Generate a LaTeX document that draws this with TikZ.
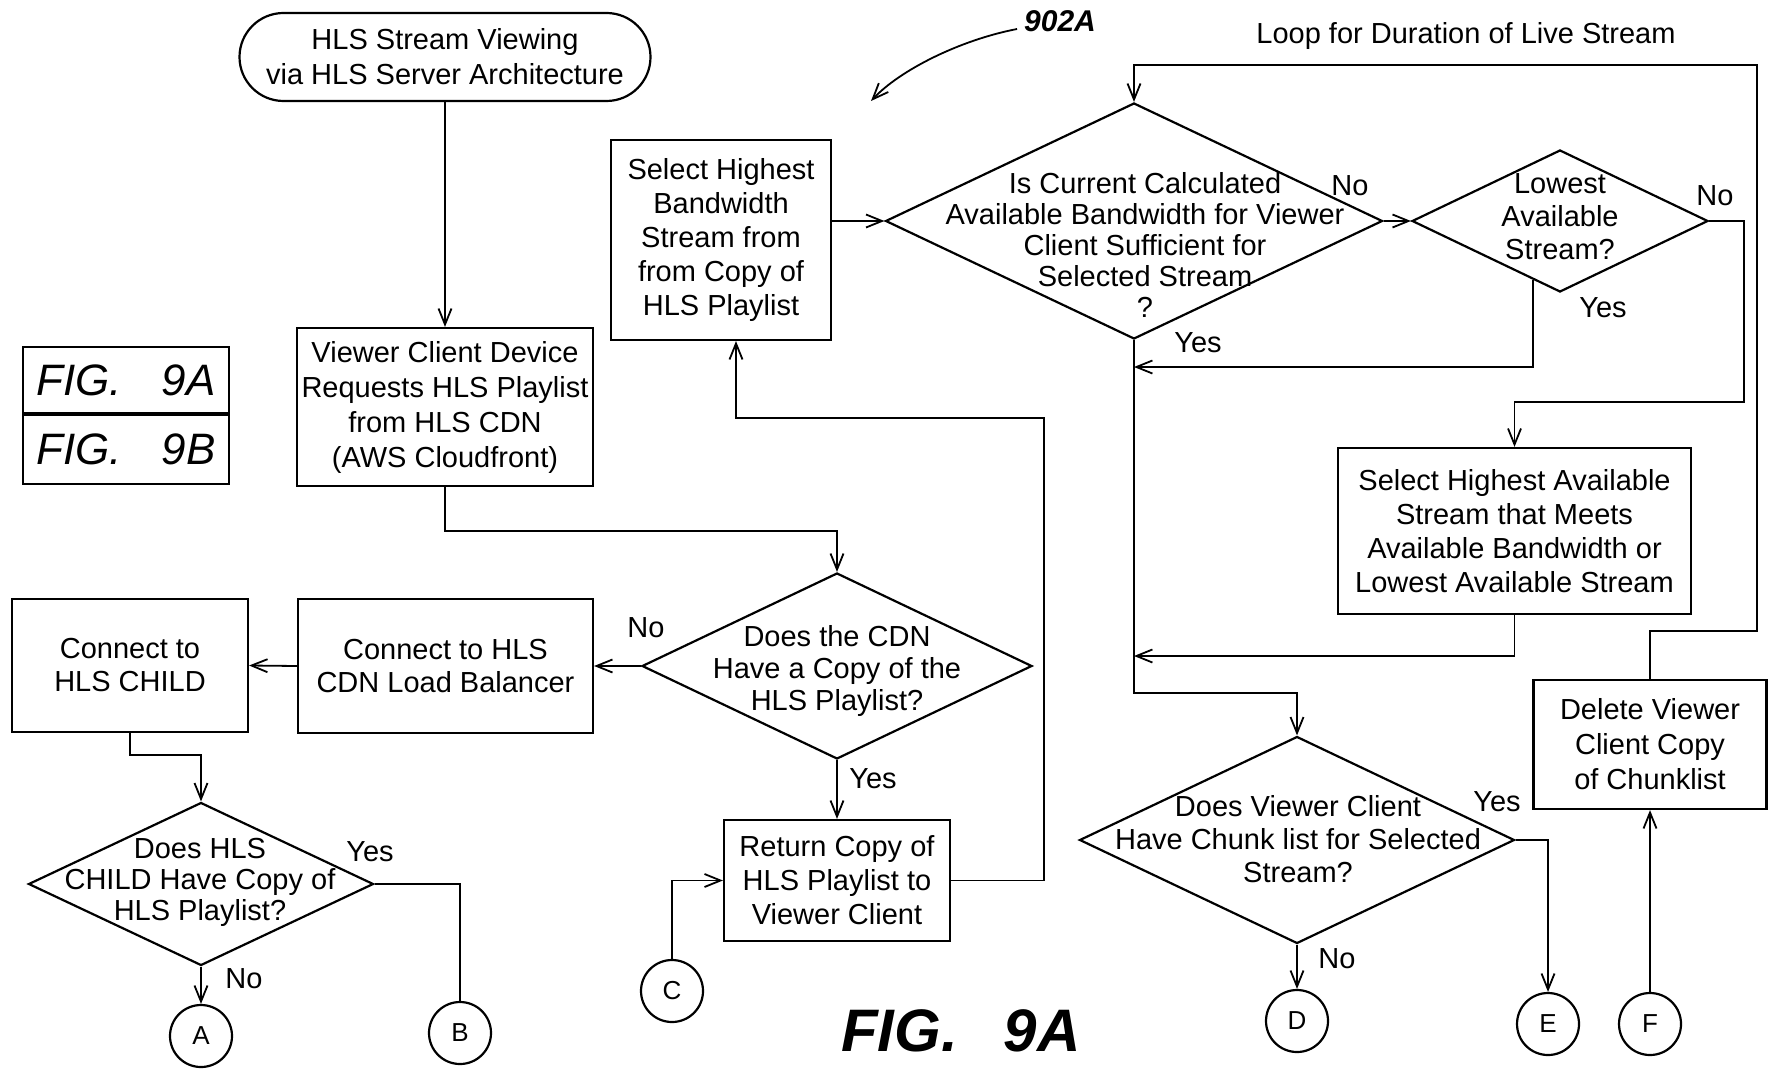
\documentclass[tikz,border=0pt]{standalone}
\usepackage{fontspec}
\setmainfont{Liberation Sans}
\usetikzlibrary{shapes.geometric,shapes.misc,arrows.meta,calc}

\tikzset{
	process/.style={draw, line width=1.1pt, align=center, inner sep=0pt},
	terminal/.style={draw, rounded rectangle, line width=1.1pt, align=center, inner sep=0pt},
	decision/.style={draw, diamond, line width=1.1pt, inner sep=0pt},
	qtext/.style={align=center},
	connector/.style={draw, circle, line width=1.1pt, minimum size=31pt, inner sep=0pt, font=\fontsize{13}{15}\selectfont},
	flow/.style={line width=0.9pt, -{Straight Barb[length=8pt,width=6.5pt]}},
	wire/.style={line width=0.9pt},
	figlbl/.style={font=\fontsize{22}{24}\selectfont\itshape},
}

\begin{document}
\begin{tikzpicture}[x=0.5pt, y=-0.5pt, every node/.style={font=\fontsize{14.5}{16.5}\selectfont}]
	\useasboundingbox (0,0) rectangle (1775,1075);

	\node[terminal, minimum width=205.5pt, minimum height=44pt, font=\fontsize{14.5}{17.5}\selectfont] (start) at (445,57) {HLS Stream Viewing\\via HLS Server Architecture};
	\node[process, minimum width=148pt, minimum height=79pt, font=\fontsize{14.5}{17.5}\selectfont] (request) at (445,407) {Viewer Client Device\\Requests HLS Playlist\\from HLS CDN\\(AWS Cloudfront)};
	\node[process, minimum width=103pt, minimum height=33pt, figlbl] (fig9a) at (126,380) {FIG.\hspace{20pt}9A};
	\node[process, minimum width=103pt, minimum height=34.5pt, figlbl, anchor=north] (fig9b) at (fig9a.south) {FIG.\hspace{20pt}9B};

	\node[process, minimum width=110pt, minimum height=100pt, font=\fontsize{14.5}{17}\selectfont] (selhigh) at (721,240) {Select Highest\\Bandwidth\\Stream from\\from Copy of\\HLS Playlist};
	\node[decision, minimum width=248.5pt, minimum height=118pt] (bwok) at (1134,221) {};
	\node[qtext, font=\fontsize{14.5}{15.5}\selectfont] (bwok-t) at (1145,245) {Is Current Calculated\\Available Bandwidth for Viewer\\Client Sufficient for\\Selected Stream\\?};
	\node[decision, minimum width=148pt, minimum height=71pt] (lowest) at (1560,221) {};
	\node[qtext] (lowest-t) at (1560,217) {Lowest\\Available\\Stream?};
	\node[process, minimum width=176.5pt, minimum height=83pt, font=\fontsize{14.5}{17}\selectfont] (selavail) at (1514.5,531) {Select Highest Available\\Stream that Meets\\Available Bandwidth or\\Lowest Available Stream};
	\node[process, minimum width=116.5pt, minimum height=64.5pt, font=\fontsize{14.5}{17.5}\selectfont] (delete) at (1650,744.5) {Delete Viewer\\Client Copy\\of Chunklist};
	\node[decision, minimum width=217.5pt, minimum height=103.5pt] (chunk) at (1297,840) {};
	\node[qtext] (chunk-t) at (1298,839) {Does Viewer Client\\Have Chunk list for Selected\\Stream?};

	\node[decision, minimum width=195pt, minimum height=93pt] (cdn) at (837,666) {};
	\node[qtext, font=\fontsize{14.5}{16}\selectfont] (cdn-t) at (837,671) {Does the CDN\\Have a Copy of the\\HLS Playlist?};
	\node[process, minimum width=113pt, minimum height=60.5pt, font=\fontsize{14.5}{17}\selectfont] (ret) at (837,880.5) {Return Copy of\\HLS Playlist to\\Viewer Client};
	\node[process, minimum width=147.5pt, minimum height=67pt] (lb) at (445.5,666) {Connect to HLS\\CDN Load Balancer};
	\node[process, minimum width=118pt, minimum height=66.5pt] (child) at (130,665.5) {Connect to\\HLS CHILD};
	\node[decision, minimum width=172.5pt, minimum height=81.5pt] (childq) at (201,884) {};
	\node[qtext, font=\fontsize{14.5}{15.5}\selectfont] (childq-t) at (200,882) {Does HLS\\CHILD Have Copy of\\HLS Playlist?};

	\node[connector] (A) at (201,1036) {A};
	\node[connector] (B) at (460,1033) {B};
	\node[connector] (C) at (672,991) {C};
	\node[connector] (D) at (1297,1021) {D};
	\node[connector] (E) at (1548,1024) {E};
	\node[connector] (F) at (1650,1024) {F};

	\node (no-cdn) at (646,628) {No};
	\node (yes-cdn) at (873,779) {Yes};
	\node (no-bw) at (1350,186) {No};
	\node (yes-bw) at (1198,343) {Yes};
	\node (no-low) at (1715,196) {No};
	\node (yes-low) at (1603,308) {Yes};
	\node (yes-chunk) at (1497,802) {Yes};
	\node (no-chunk) at (1337,959) {No};
	\node (yes-child) at (370,852) {Yes};
	\node (no-child) at (244,979) {No};
	\node (loop-t) at (1466,36) {Loop for Duration of Live Stream};
	\node[font=\fontsize{15}{17}\selectfont\bfseries\itshape] (ref902) at (1060,21) {902A};
	\node[font=\fontsize{30}{32}\selectfont\bfseries\itshape] (fig-main) at (961,1031) {FIG.\hspace{23pt}9A};

	\coordinate (r1) at (1044,418);
	\coordinate (j1) at (1134,367);
	\coordinate (j2) at (1134,656);
	\coordinate (j3) at (1134,693);
	\coordinate (l1) at (1757,631);
	\coordinate (l2) at (1757,65);
	\coordinate (tip902) at (871,101);

	\draw[flow] (start) -- (request);
	\draw[flow] (request.south) -- ++(0,44) -| (cdn.north);
	\draw[flow] (cdn.west) -- (lb.east);
	\draw[flow] (lb.west) -- (child.east);
	\draw[flow] (child.south) -- ++(0,22) -| (childq.north);
	\draw[flow] (childq.south) -- (A.north);
	\draw[wire] (childq.east) -| (B.north);
	\draw[flow] (cdn.south) -- (ret.north);
	\draw[flow] (C.north) |- (ret.west);
	\draw[flow] (ret.east) -| (r1) -| ([xshift=7.5pt]selhigh.south);
	\draw[flow] (selhigh.east |- bwok.west) -- (bwok.west);
	\draw[flow] (bwok.east) -- (lowest.west);
	\draw[flow] (lowest.east) -- ++(35,0) -- ++(0,181) -| (selavail.north);
	\draw[flow] ($(lowest.west)!0.82!(lowest.south)$) |- (j1);
	\draw[flow] (selavail.south) |- (j2);
	\draw[flow] (bwok.south) -- (j3) -| (chunk.north);
	\draw[flow] (chunk.south) -- (D.north);
	\draw[flow] (chunk.east) -| (E.north);
	\draw[flow] (F.north) -- (delete.south);
	\draw[flow] (delete.north) |- (l1) -- (l2) -| (bwok.north);
	\draw[flow] ([yshift=-4pt]ref902.west) .. controls (960,40) and (900,70) .. (tip902);
\end{tikzpicture}
\end{document}
